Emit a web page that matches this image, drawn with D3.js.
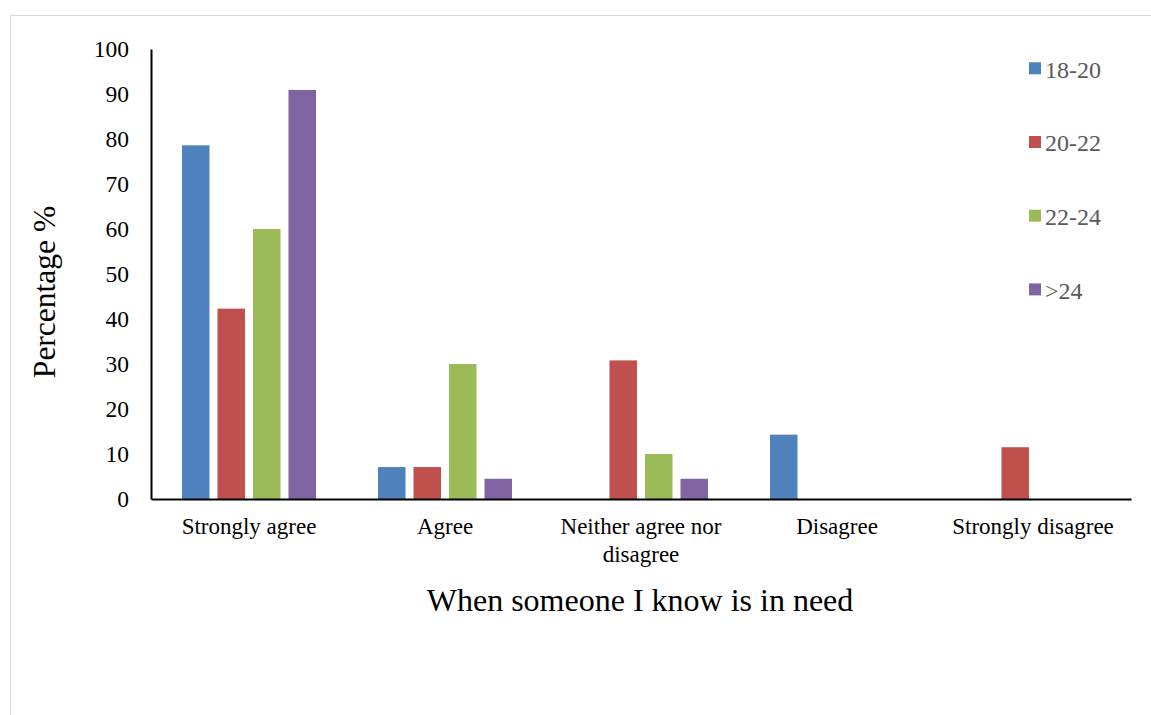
<!DOCTYPE html>
<html>
<head>
<meta charset="utf-8">
<script src="https://cdn.jsdelivr.net/npm/d3@7"></script>
<style>
  html, body { margin: 0; padding: 0; background: #fff; }
  svg { display: block; }
</style>
</head>
<body>
<svg id="chart" width="1151" height="715"></svg>
<script>
// Response categories (x axis) and age groups (series)
const categories = ["Strongly agree", "Agree", "Neither agree nor disagree", "Disagree", "Strongly disagree"];
const seriesNames = ["18-20", "20-22", "22-24", ">24"];
const seriesColors = ["#4f81bd", "#c0504d", "#9bbb59", "#8064a2"];

// Percentage per category for each age group
const values1820 = [78.6, 7.1, 0, 14.3, 0];
const values2022 = [42.3, 7.1, 30.8, 0, 11.5];
const values2224 = [60.0, 30.0, 10.0, 0, 0];
const valuesOver24 = [90.9, 4.5, 4.5, 0, 0];

const yTicks = [0, 10, 20, 30, 40, 50, 60, 70, 80, 90, 100];

const seriesValues = [values1820, values2022, values2224, valuesOver24];

const svg = d3.select("#chart");
const serif = "'Liberation Serif', 'Times New Roman', serif";

// Outer frame
svg.append("rect")
  .attr("x", 10.5).attr("y", 15.5)
  .attr("width", 1300).attr("height", 900)
  .attr("fill", "none").attr("stroke", "#d9d9d9").attr("stroke-width", 1);

const plot = { left: 151, right: 1131, top: 49, bottom: 499 };

const x = d3.scaleBand().domain(categories).range([plot.left, plot.right]).padding(0);
const y = d3.scaleLinear().domain([0, 100]).range([plot.bottom, plot.top]);

// Position of each age group's bar inside a category
const barWidth = 27.5;
const barStep = 35.5;
const xSeries = d3.scaleLinear()
  .domain([0, seriesNames.length - 1])
  .range([-1.5 * barStep - barWidth / 2, 1.5 * barStep - barWidth / 2]);

// Bars
const rows = [];
seriesValues.forEach((vals, si) => {
  vals.forEach((v, ci) => rows.push({ si, cat: categories[ci], v }));
});

svg.append("g").selectAll("rect")
  .data(rows.filter(d => d.v > 0))
  .join("rect")
  .attr("x", d => x(d.cat) + x.bandwidth() / 2 + xSeries(d.si))
  .attr("y", d => y(d.v))
  .attr("width", barWidth)
  .attr("height", d => y(0) - y(d.v))
  .attr("fill", d => seriesColors[d.si]);

// Y axis
const yAxis = d3.axisLeft(y).tickValues(yTicks).tickSize(0).tickPadding(22);
const gy = svg.append("g").attr("transform", `translate(${plot.left},0)`).call(yAxis);
gy.select(".domain").attr("stroke", "#000").attr("stroke-width", 2);
gy.selectAll("text")
  .attr("font-family", serif).attr("font-size", 23.5).attr("fill", "#000");

// X axis
const xAxis = d3.axisBottom(x).tickSize(0).tickPadding(19);
const gx = svg.append("g").attr("transform", `translate(0,${plot.bottom})`).call(xAxis);
gx.select(".domain").attr("stroke", "#000").attr("stroke-width", 2);
gx.selectAll("text")
  .attr("font-family", serif).attr("font-size", 23).attr("fill", "#000")
  .each(function(d) {
    if (d === "Neither agree nor disagree") {
      const t = d3.select(this);
      t.text(null);
      t.append("tspan").attr("x", 0).attr("dy", "0.71em").text("Neither agree nor");
      t.append("tspan").attr("x", 0).attr("dy", "1.2em").text("disagree");
      t.attr("dy", null);
    }
  });

// Axis titles
svg.append("text")
  .attr("x", 640).attr("y", 611)
  .attr("text-anchor", "middle")
  .attr("font-family", serif).attr("font-size", 32).attr("fill", "#000")
  .text("When someone I know is in need");

svg.append("text")
  .attr("transform", `translate(55,${(plot.top + plot.bottom) / 2 + 18}) rotate(-90)`)
  .attr("text-anchor", "middle")
  .attr("font-family", serif).attr("font-size", 31.5).attr("fill", "#000")
  .text("Percentage %");

// Legend
const legend = svg.append("g").selectAll("g")
  .data(seriesNames)
  .join("g")
  .attr("transform", (d, i) => `translate(1029,${68.3 + i * 73.7})`);

legend.append("rect")
  .attr("x", 0).attr("y", -6).attr("width", 12).attr("height", 12)
  .attr("fill", (d, i) => seriesColors[i]);

legend.append("text")
  .attr("x", 16).attr("y", 1).attr("dy", "0.35em")
  .attr("font-family", serif).attr("font-size", 24).attr("fill", "#595959")
  .text(d => d);
</script>
</body>
</html>
